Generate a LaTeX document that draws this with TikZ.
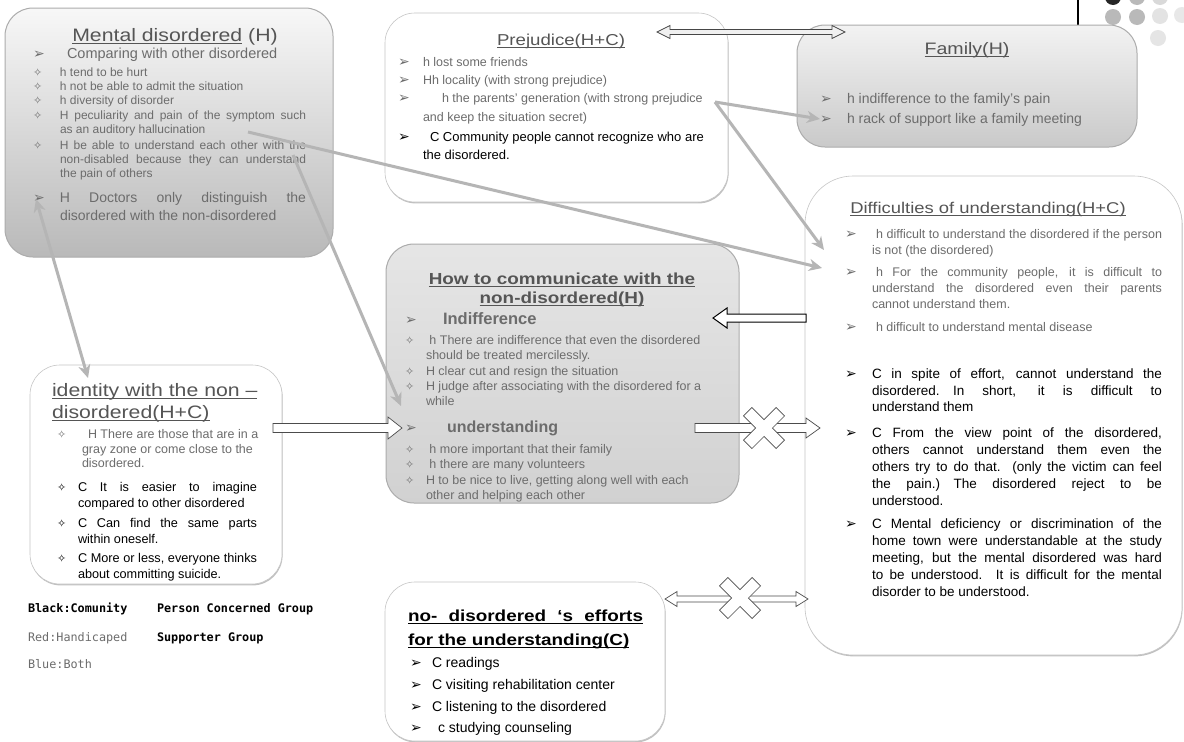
\documentclass[tikz,border=0pt]{standalone}
\usepackage{fontspec}
\setmainfont{Liberation Sans}
\newfontfamily\ttlfont[FakeStretch=1.18]{Liberation Sans}
\newfontfamily\legfont{DejaVu Sans Mono}
\newfontfamily\symf{DejaVu Sans}
\usetikzlibrary{calc,arrows.meta,shadows}
\definecolor{txtgray}{HTML}{6C6C6C}
\definecolor{ttlgray}{HTML}{555555}
\newcommand\fsz[1]{\fontsize{#1}{#1}\selectfont}
\newcommand\bA{{\symf\fsz{14}➢}}
\newcommand\bD{{\symf\fsz{11}✧}}
\newcommand\bx[2]{\makebox[#1pt][l]{#2}}
\newcommand\jst[2]{\makebox[#1pt][s]{#2}}
\newcommand\uln[1]{\leavevmode\setbox0\hbox{#1}\rlap{\copy0}\rule[-2.6pt]{\wd0}{0.9pt}}
\tikzset{
 ln/.style={anchor=base west,inner sep=0pt,outer sep=0pt},
 ttl/.style={anchor=base,inner sep=0pt,text=ttlgray},
 gs/.style={ln,text=txtgray},
 bk/.style={ln,text=black},
 graybox/.style={rectangle,rounded corners=28pt,draw=gray!65,line width=1pt,inner sep=0pt},
 whitebox/.style={rectangle,rounded corners=30pt,draw=gray!45,line width=0.6pt,fill=white,inner sep=0pt,
   drop shadow={shadow xshift=0.6pt,shadow yshift=-1.4pt,fill=gray!70,opacity=0.7}},
 conn/.style={draw=gray!58,line width=3pt,-{Stealth[length=13pt,width=12pt,inset=4pt]}},
 conn2/.style={draw=gray!58,line width=3pt,{Stealth[length=13pt,width=12pt,inset=4pt]}-{Stealth[length=13pt,width=12pt,inset=4pt]}},
 blk/.style={draw=gray!60!black,line width=0.7pt,fill=white},
 xmark/.pic={\draw[draw=gray!60!black,line width=0.7pt,fill=white,rotate=45]
   (6,6)--(23,6)--(23,-6)--(6,-6)--(6,-23)--(-6,-23)--(-6,-6)--(-23,-6)--(-23,6)--(-6,6)--(-6,23)--(6,23)--cycle;},
}
\newcommand\blockarrow[6][]{%
  \coordinate (bh) at ($(#3)!#6pt!(#2)$);
  \draw[blk,#1] ($(#2)+(0,#4)$) -- ($(bh)+(0,#4)$) -- ($(bh)+(0,#5)$) -- (#3) -- ($(bh)+(0,-#5)$) -- ($(bh)+(0,-#4)$) -- ($(#2)+(0,-#4)$) -- cycle;}
\newcommand\dblockarrow[6][]{%
  \coordinate (bha) at ($(#2)!#6pt!(#3)$);
  \coordinate (bhb) at ($(#3)!#6pt!(#2)$);
  \draw[blk,#1] (#2) -- ($(bha)+(0,-#5)$) -- ($(bha)+(0,-#4)$) -- ($(bhb)+(0,-#4)$) -- ($(bhb)+(0,-#5)$) -- (#3) -- ($(bhb)+(0,#5)$) -- ($(bhb)+(0,#4)$) -- ($(bha)+(0,#4)$) -- ($(bha)+(0,#5)$) -- cycle;}
\begin{document}
\begin{tikzpicture}[x=1pt,y=-1pt]
\useasboundingbox (0,0) rectangle (1184,742);
\fill[white] (0,0) rectangle (1184,742);
% template decoration
\draw[line width=1.2pt] (1078,0)--(1078,25);
\fill[black!85] (1113,-3) circle (8);
\fill[gray!55] (1137,-3) circle (8);
\fill[gray!30] (1160,-3) circle (8);
\fill[gray!55] (1113,17) circle (8);
\fill[gray!55] (1137,17) circle (8);
\fill[gray!22] (1160,16) circle (8);
\fill[gray!18] (1182,15) circle (8);
\fill[gray!20] (1158,38) circle (8);
% boxes
\node[graybox,top color=gray!6,bottom color=gray!55,minimum width=328pt,minimum height=249pt] (mental) at (169,132.5) {};
\node[whitebox,minimum width=343pt,minimum height=189pt] (prej) at (556.5,107.5) {};
\node[graybox,top color=gray!10,bottom color=gray!42,minimum width=340pt,minimum height=122pt] (family) at (967,86) {};
\node[whitebox,rounded corners=48pt,minimum width=377pt,minimum height=479pt] (diff) at (993.5,415.5) {};
\node[graybox,top color=gray!20,bottom color=gray!36,minimum width=353pt,minimum height=259pt] (howto) at (562.5,373.5) {};
\node[whitebox,minimum width=252pt,minimum height=219pt] (ident) at (156,474.5) {};
\node[whitebox,minimum width=280pt,minimum height=159pt] (nodis) at (525,661.5) {};
% Mental disordered
\node[ttl,font=\ttlfont\fsz{18}] (mt) at (175,41) {\uln{Mental disordered} (H)};
\node[gs,font=\fsz{14.5}] (m1) at (33,58) {\bx{34}{\bA}Comparing with other disordered};
\node[gs,font=\fsz{12}] (m2) at (33,76) {\bx{27}{\bD}h tend to be hurt};
\node[gs,font=\fsz{12}] (m3) at (33,90) {\bx{27}{\bD}h not be able to admit the situation};
\node[gs,font=\fsz{12}] (m4) at (33,104) {\bx{27}{\bD}h diversity of disorder};
\node[gs,font=\fsz{12}] (m5) at (33,119) {\bx{27}{\bD}\jst{246}{H peculiarity and pain of the symptom such}};
\node[gs,font=\fsz{12}] (m6) at (60,133) {as an auditory hallucination};
\node[gs,font=\fsz{12}] (m7) at (33,149) {\bx{27}{\bD}\jst{246}{H be able to understand each other with the}};
\node[gs,font=\fsz{12}] (m8) at (60,163) {\jst{246}{non-disabled because they can understand}};
\node[gs,font=\fsz{12}] (m9) at (60,177) {the pain of others};
\node[gs,font=\fsz{14}] (m10) at (33,202) {\bx{27}{\bA}\jst{246}{H Doctors only distinguish the}};
\node[gs,font=\fsz{14}] (m11) at (60,220) {disordered with the non-disordered};
% Prejudice
\node[ttl,font=\ttlfont\fsz{15.8}] (pt) at (561,45) {\uln{Prejudice(H+C)}};
\node[gs,font=\fsz{12.5}] (p1) at (398,66) {\bx{25}{\bA}h lost some friends};
\node[gs,font=\fsz{12.5}] (p2) at (398,84) {\bx{25}{\bA}Hh locality (with strong prejudice)};
\node[gs,font=\fsz{12.5}] (p3) at (398,102) {\bx{44}{\bA}h the parents' generation (with strong prejudice};
\node[gs,font=\fsz{12.5}] (p4) at (423,121) {and keep the situation secret)};
\node[bk,font=\fsz{13}] (p5) at (398,141) {\bx{32}{\bA}C Community people cannot recognize who are};
\node[bk,font=\fsz{13}] (p6) at (423,159) {the disordered.};
% Family
\node[ttl,font=\ttlfont\fsz{16.6}] (ft) at (967,54) {\uln{Family(H)}};
\node[gs,font=\fsz{14}] (f1) at (820,103) {\bx{27}{\bA}h indifference to the family’s pain};
\node[gs,font=\fsz{14}] (f2) at (820,123) {\bx{27}{\bA}h rack of support like a family meeting};
% Difficulties
\node[ttl,font=\ttlfont\fsz{15.6}] (dt) at (988,213) {\uln{Difficulties of understanding(H+C)}};
\node[gs,font=\fsz{12.5}] (d1) at (845,238) {\bx{31}{\bA}\jst{286}{h difficult to understand the disordered if the person}};
\node[gs,font=\fsz{12.5}] (d2) at (872,254) {is not (the disordered)};
\node[gs,font=\fsz{12.5}] (d3) at (845,276) {\bx{31}{\bA}\jst{286}{h For the community people, it is difficult to}};
\node[gs,font=\fsz{12.5}] (d4) at (872,292) {\jst{290}{understand the disordered even their parents}};
\node[gs,font=\fsz{12.5}] (d5) at (872,308) {cannot understand them.};
\node[gs,font=\fsz{12.5}] (d6) at (845,331) {\bx{31}{\bA}h difficult to understand mental disease};
\node[bk,font=\fsz{13.5}] (d7) at (845,378) {\bx{27}{\bA}\jst{290}{C in spite of effort, cannot understand the}};
\node[bk,font=\fsz{13.5}] (d8) at (872,395) {\jst{290}{disordered.\quad In short, it is difficult to}};
\node[bk,font=\fsz{13.5}] (d9) at (872,411) {understand them};
\node[bk,font=\fsz{13.5}] (d10) at (845,437) {\bx{27}{\bA}\jst{290}{C From the view point of the disordered,}};
\node[bk,font=\fsz{13.5}] (d11) at (872,454) {\jst{290}{others cannot understand them even the}};
\node[bk,font=\fsz{13.5}] (d12) at (872,471) {\jst{290}{others try to do that. (only the victim can feel}};
\node[bk,font=\fsz{13.5}] (d13) at (872,488) {\jst{290}{the pain.)\quad The disordered reject to be}};
\node[bk,font=\fsz{13.5}] (d14) at (872,505) {understood.};
\node[bk,font=\fsz{13.5}] (d15) at (845,528) {\bx{27}{\bA}\jst{290}{C Mental deficiency or discrimination of the}};
\node[bk,font=\fsz{13.5}] (d16) at (872,545) {\jst{290}{home town were understandable at the study}};
\node[bk,font=\fsz{13.5}] (d17) at (872,562) {\jst{290}{meeting, but the mental disordered was hard}};
\node[bk,font=\fsz{13.5}] (d18) at (872,579) {\jst{290}{to be understood.\quad It is difficult for the mental}};
\node[bk,font=\fsz{13.5}] (d19) at (872,596) {disorder to be understood.};
% How to communicate
\node[ttl,font=\ttlfont\bfseries\fsz{16}] (ht1) at (562,284) {\uln{How to communicate with the}};
\node[ttl,font=\ttlfont\bfseries\fsz{16}] (ht2) at (562,303) {\uln{non-disordered(H)}};
\node[gs,font=\bfseries\fsz{16.5}] (h1) at (405,324) {\bx{38}{\mdseries\bA}Indifference};
\node[gs,font=\fsz{12.5}] (h2) at (405,344) {\bx{21}{\bD} h There are indifference that even the disordered};
\node[gs,font=\fsz{12.5}] (h3) at (426,359) {should be treated mercilessly.};
\node[gs,font=\fsz{12.5}] (h4) at (405,375) {\bx{21}{\bD}H clear cut and resign the situation};
\node[gs,font=\fsz{12.5}] (h5) at (405,390) {\bx{21}{\bD}H judge after associating with the disordered for a};
\node[gs,font=\fsz{12.5}] (h6) at (426,405) {while};
\node[gs,font=\bfseries\fsz{16}] (h7) at (405,432) {\bx{42}{\mdseries\bA}understanding};
\node[gs,font=\fsz{12.5}] (h8) at (405,453) {\bx{21}{\bD} h more important that their family};
\node[gs,font=\fsz{12.5}] (h9) at (405,468) {\bx{21}{\bD} h there are many volunteers};
\node[gs,font=\fsz{12.5}] (h10) at (405,484) {\bx{21}{\bD}H to be nice to live, getting along well with each};
\node[gs,font=\fsz{12.5}] (h11) at (426,499) {other and helping each other};
% identity
\node[gs,font=\ttlfont\fsz{18},text=ttlgray] (it1) at (52,396) {\uln{identity with the non –}};
\node[gs,font=\ttlfont\fsz{18},text=ttlgray] (it2) at (52,418) {\uln{disordered(H+C)}};
\node[gs,font=\fsz{12.5}] (i1) at (57,438) {\bx{31}{\bD}H There are those that are in a};
\node[gs,font=\fsz{12.5}] (i2) at (82,453) {gray zone or come close to the};
\node[gs,font=\fsz{12.5}] (i3) at (82,467) {disordered.};
\node[bk,font=\fsz{12.7}] (i4) at (57,491) {\bx{21}{\bD}\jst{179}{C It is easier to imagine}};
\node[bk,font=\fsz{12.7}] (i5) at (78,507) {compared to other disordered};
\node[bk,font=\fsz{12.7}] (i6) at (57,527) {\bx{21}{\bD}\jst{179}{C Can find the same parts}};
\node[bk,font=\fsz{12.7}] (i7) at (78,543) {within oneself.};
\node[bk,font=\fsz{12.7}] (i8) at (57,562) {\bx{21}{\bD}\jst{179}{C More or less, everyone thinks}};
\node[bk,font=\fsz{12.7}] (i9) at (78,578) {about committing suicide.};
% no-disordered efforts
\node[bk,font=\ttlfont\bfseries\fsz{16}] (nt1) at (408,621) {\uln{\jst{235}{no- disordered ‘s efforts}}};
\node[bk,font=\ttlfont\bfseries\fsz{16}] (nt2) at (408,645) {\uln{for the understanding(C)}};
\node[bk,font=\fsz{14}] (n1) at (410,667) {\bx{22}{\bA}C readings};
\node[bk,font=\fsz{14}] (n2) at (410,689) {\bx{22}{\bA}C visiting rehabilitation center};
\node[bk,font=\fsz{14}] (n3) at (410,711) {\bx{22}{\bA}C listening to the disordered};
\node[bk,font=\fsz{14}] (n4) at (410,732) {\bx{28}{\bA}c studying counseling};
% legend
\node[bk,font=\legfont\bfseries\fsz{11.8}] (l1) at (28,612) {Black:Comunity};
\node[bk,font=\legfont\bfseries\fsz{11.8}] (l2) at (157,612) {Person Concerned Group};
\node[gs,font=\legfont\fsz{11.8}] (l3) at (28,641) {Red:Handicaped};
\node[bk,font=\legfont\bfseries\fsz{11.8}] (l4) at (157,641) {Supporter Group};
\node[gs,font=\legfont\fsz{11.8}] (l5) at (28,668) {Blue:Both};
% connector end points
\coordinate (pjR) at (657,32); \coordinate (fmL) at (845,32);
\coordinate (pjA) at (715,102);
\coordinate (fmA) at (820,119);
\coordinate (dfA) at (824,250);
\coordinate (mtA) at (248,132);
\coordinate (dfB) at (822,268);
\coordinate (mtB) at (293,155);
\coordinate (htA) at (401,406);
\coordinate (mtC) at (36,199);
\coordinate (idA) at (88,378);
\coordinate (idR) at (273,428); \coordinate (htL) at (402,428);
\coordinate (dfL) at (806,318); \coordinate (htR) at (713,318);
\coordinate (htR2) at (695,428); \coordinate (dfL2) at (820,428); \coordinate (x1) at (764,428);
\coordinate (ndR) at (665,599); \coordinate (dfL3) at (808,599); \coordinate (x2) at (740,598);
% connectors
\draw[conn2] (mtC) -- (idA);
\draw[conn] (mtA) -- (dfB);
\draw[conn] (mtB) -- (htA);
\draw[conn] (pjA) -- (fmA);
\draw[conn] (pjA) -- (dfA);
\dblockarrow[fill=gray!12,draw=gray!55!black]{pjR}{fmL}{2.5}{6.5}{13}
\blockarrow{idR}{htL}{4.5}{11}{14}
\blockarrow[draw=black,line width=1pt]{dfL}{htR}{4}{10}{14}
\blockarrow{htR2}{dfL2}{4.5}{10}{14}
\pic at (x1) {xmark};
\dblockarrow{ndR}{dfL3}{3}{7.5}{12}
\pic at (x2) {xmark};
\end{tikzpicture}
\end{document}
